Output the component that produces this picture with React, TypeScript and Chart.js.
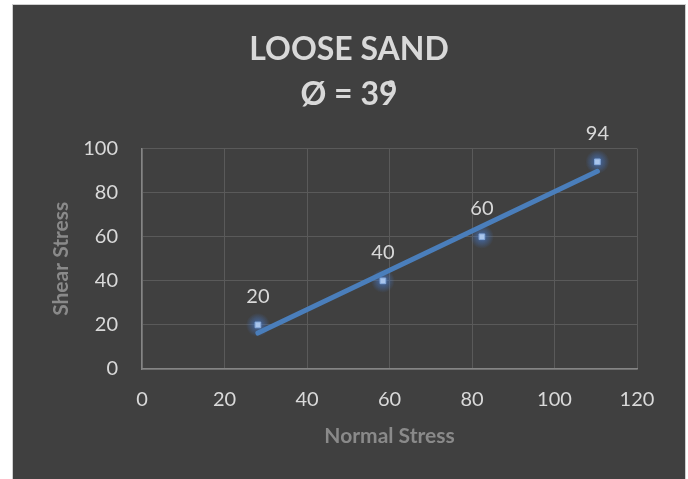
import React, { useEffect, useRef } from "react";
import { Chart, registerables } from "chart.js";

Chart.register(...registerables);

const titleLines = ["LOOSE SAND", "Ø = 39̊"];
const xAxisTitle = "Normal Stress";
const yAxisTitle = "Shear Stress";
const normalStress = [28.1, 58.4, 82.4, 110.4];
const shearStress = [20, 40, 60, 94];
const pointLabels = ["20", "40", "60", "94"];
const xTicks = [0, 20, 40, 60, 80, 100, 120];
const yTicks = [0, 20, 40, 60, 80, 100];

const FONT = "Lato, 'Open Sans', sans-serif";

function regression(xs: number[], ys: number[]) {
  const n = xs.length;
  const mx = xs.reduce((a, b) => a + b, 0) / n;
  const my = ys.reduce((a, b) => a + b, 0) / n;
  let sxy = 0;
  let sxx = 0;
  for (let i = 0; i < n; i++) {
    sxy += (xs[i] - mx) * (ys[i] - my);
    sxx += (xs[i] - mx) * (xs[i] - mx);
  }
  const slope = sxy / sxx;
  return { slope, intercept: my - slope * mx };
}

export default function App() {
  const ref = useRef<HTMLCanvasElement | null>(null);

  useEffect(() => {
    document.body.style.margin = "0";
    document.body.style.overflow = "hidden";
    const canvas = ref.current;
    if (!canvas) return;

    const points = normalStress.map((x, i) => ({ x, y: shearStress[i] }));
    const { slope, intercept } = regression(normalStress, shearStress);
    const xMin = Math.min(...normalStress);
    const xMax = Math.max(...normalStress);
    const trend = [
      { x: xMin, y: intercept + slope * xMin },
      { x: xMax, y: intercept + slope * xMax },
    ];

    const glowPlugin = {
      id: "glow",
      beforeDatasetsDraw(chart: any) {
        const { ctx, scales } = chart;
        ctx.save();
        points.forEach((p) => {
          const px = scales.x.getPixelForValue(p.x);
          const py = scales.y.getPixelForValue(p.y);
          const g = ctx.createRadialGradient(px, py, 0, px, py, 12);
          g.addColorStop(0, "rgba(70,120,200,0.8)");
          g.addColorStop(0.5, "rgba(70,120,200,0.4)");
          g.addColorStop(1, "rgba(70,120,200,0)");
          ctx.fillStyle = g;
          ctx.beginPath();
          ctx.arc(px, py, 12, 0, Math.PI * 2);
          ctx.fill();
        });
        ctx.restore();
      },
    };

    const labelPlugin = {
      id: "pointLabels",
      afterDatasetsDraw(chart: any) {
        const { ctx, scales } = chart;
        ctx.save();
        ctx.font = `20px ${FONT}`;
        ctx.fillStyle = "#d9d9d9";
        ctx.textAlign = "center";
        ctx.textBaseline = "alphabetic";
        points.forEach((p, i) => {
          const px = scales.x.getPixelForValue(p.x);
          const py = scales.y.getPixelForValue(p.y);
          ctx.fillText(pointLabels[i], px, py - 22);
        });
        ctx.restore();
      },
    };

    const chart = new Chart(canvas, {
      type: "scatter",
      data: {
        datasets: [
          {
            type: "line",
            data: trend,
            borderColor: "#4a7ebb",
            borderWidth: 5,
            borderCapStyle: "round",
            pointRadius: 0,
            fill: false,
            order: 1,
          } as any,
          {
            data: points,
            pointStyle: "rect",
            pointRadius: 4,
            backgroundColor: "#a9c5ec",
            borderColor: "#86a9db",
            borderWidth: 1,
            order: 2,
          },
        ],
      },
      options: {
        animation: false,
        responsive: false,
        maintainAspectRatio: false,
        layout: { padding: 0 },
        plugins: {
          legend: { display: false },
          tooltip: { enabled: false },
          title: {
            display: true,
            text: titleLines,
            color: "#d9d9d9",
            font: { family: FONT, size: 32, weight: "bold", lineHeight: 1.4 },
            padding: { top: 22, bottom: 32 },
          },
        },
        scales: {
          x: {
            type: "linear",
            min: 0,
            max: 120,
            afterBuildTicks: (s: any) => {
              s.ticks = xTicks.map((v) => ({ value: v }));
            },
            afterFit: (s: any) => {
              s.height = 110;
            },
            grid: { color: "#5a5a5a", lineWidth: 1, drawTicks: false },
            border: { color: "#858585", width: 1.5 },
            ticks: {
              color: "#d9d9d9",
              padding: 19,
              font: { family: FONT, size: 20 },
            },
            title: {
              display: true,
              text: xAxisTitle,
              color: "#8a8a8a",
              font: { family: FONT, size: 21, weight: "bold" },
              padding: { top: 0, bottom: 30 },
            },
          },
          y: {
            type: "linear",
            min: 0,
            max: 100,
            afterBuildTicks: (s: any) => {
              s.ticks = yTicks.map((v) => ({ value: v }));
            },
            afterFit: (s: any) => {
              s.width = 129;
            },
            grid: { color: "#5a5a5a", lineWidth: 1, drawTicks: false },
            border: { color: "#858585", width: 1.5 },
            ticks: {
              color: "#d9d9d9",
              padding: 24,
              font: { family: FONT, size: 20 },
            },
            title: {
              display: true,
              text: yAxisTitle,
              color: "#8a8a8a",
              font: { family: FONT, size: 21, weight: "bold" },
              padding: { top: 36, bottom: 0 },
            },
          },
          spacer: {
            type: "linear",
            position: "right",
            display: true,
            min: 0,
            max: 100,
            afterFit: (s: any) => {
              s.width = 48;
            },
            grid: { display: false, drawTicks: false },
            border: { display: false },
            ticks: { display: false },
            title: { display: false },
          },
        },
      } as any,
      plugins: [glowPlugin, labelPlugin],
    });

    return () => chart.destroy();
  }, []);

  return (
    <div
      style={{
        position: "absolute",
        left: 12,
        top: 4,
        width: 672,
        height: 474,
        background: "#404040",
        borderTop: "1px solid #cfcfcf",
        borderLeft: "1px solid #cfcfcf",
        borderRight: "1px solid #cfcfcf",
      }}
    >
      <canvas ref={ref} width={672} height={474} style={{ display: "block" }} />
    </div>
  );
}
